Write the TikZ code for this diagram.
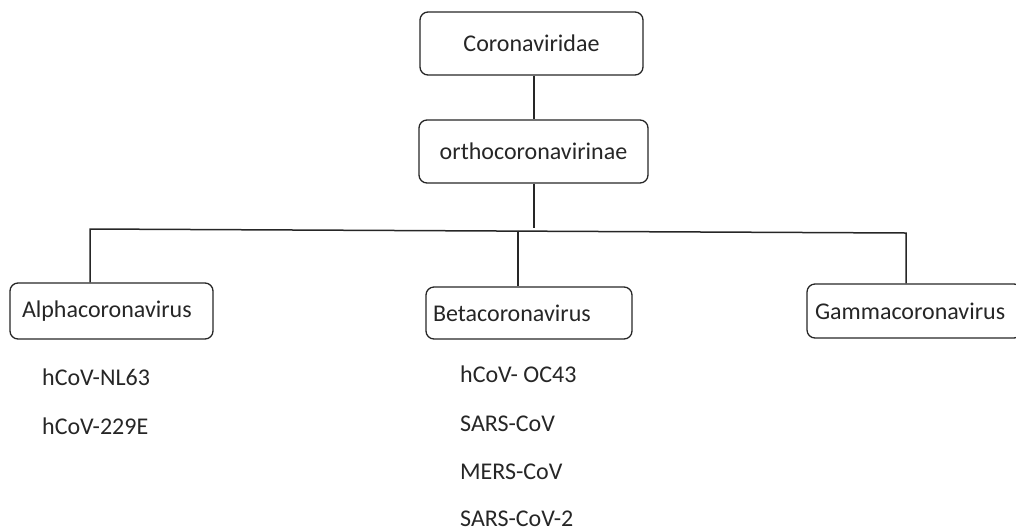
\documentclass[tikz,border=0pt]{standalone}
\usepackage{fontspec}
\setmainfont{Carlito}
\begin{document}
\begin{tikzpicture}[x=1pt,y=-1pt,
  box/.style={draw=black!85, line width=1.3pt, rounded corners=8pt, inner ysep=0pt,
    font=\fontsize{24}{28}\selectfont, text=black!85},
  conn/.style={draw=black!85, line width=1.5pt},
  item/.style={anchor=base west, inner sep=0pt, font=\fontsize{24}{28}\selectfont, text=black!85}]
\useasboundingbox (0,0) rectangle (1016,531);
\node[box, minimum width=223pt, minimum height=63pt] (cor) at (531.5,43.5) {Coronaviridae};
\node[box, minimum width=229pt, minimum height=63pt] (orth) at (533.5,151.5) {orthocoronavirinae};
\node[box, minimum width=203pt, minimum height=56pt, inner xsep=12pt, text width=179pt, align=left] (alpha) at (111.5,311) {Alphacoronavirus};
\node[box, minimum width=206pt, minimum height=52pt, inner xsep=7pt, text width=192pt, align=left] (beta) at (529,313) {Betacoronavirus};
\node[box, minimum width=215pt, minimum height=54pt, inner xsep=8pt, text width=199pt, align=left] (gamma) at (914.5,311) {Gammacoronavirus};
\coordinate (jx) at (534,0);
\coordinate (hl) at (90,229);
\coordinate (hr) at (906,233);
\coordinate (hm) at (534,231);
\coordinate (hb) at (518,230.7);
\draw[conn] (cor.south -| jx) -- (orth.north -| jx);
\draw[conn] (orth.south -| jx) -- ([yshift=3pt]hm);
\draw[conn] (alpha.north -| hl) -- (hl) -- (hr) -- (gamma.north -| hr);
\draw[conn] (hb) -- (beta.north -| hb);
\node[item] (a1) at (42,385) {hCoV-NL63};
\node[item] (a2) at (42,434) {hCoV-229E};
\node[item] (b1) at (460,382) {hCoV- OC43};
\node[item] (b2) at (460,431) {SARS-CoV};
\node[item] (b3) at (460,479) {MERS-CoV};
\node[item] (b4) at (460,526) {SARS-CoV-2};
\end{tikzpicture}
\end{document}
